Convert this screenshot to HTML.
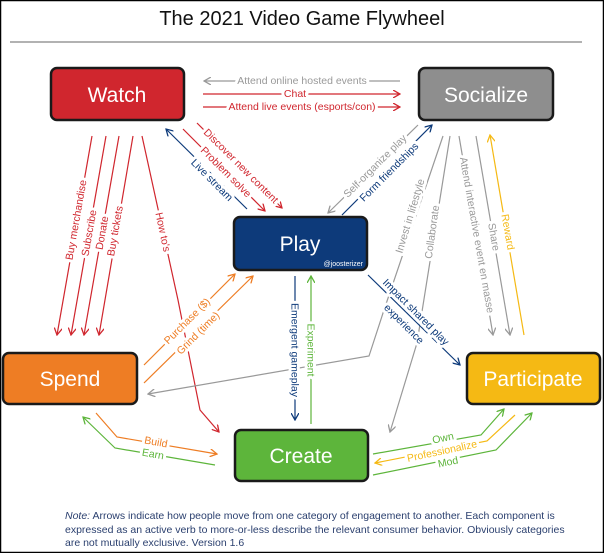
<!DOCTYPE html>
<html><head><meta charset="utf-8"><style>
html,body{margin:0;padding:0;background:#fff}
svg{display:block}
text{font-family:"Liberation Sans",sans-serif}
.l{font-size:10.5px;paint-order:stroke;stroke:#fff;stroke-width:6px;stroke-linejoin:round}
.b{font-size:21px;fill:#fff;text-anchor:middle}
</style></head><body>
<svg width="604" height="553" viewBox="0 0 604 553" xmlns="http://www.w3.org/2000/svg">
<defs>
<marker id="mr" markerWidth="8" markerHeight="8" refX="7" refY="4" orient="auto" markerUnits="userSpaceOnUse"><path d="M0,0 L7,4 L0,8" fill="none" stroke="#d0262e" stroke-width="1.3"/></marker>
<marker id="mg" markerWidth="8" markerHeight="8" refX="7" refY="4" orient="auto" markerUnits="userSpaceOnUse"><path d="M0,0 L7,4 L0,8" fill="none" stroke="#999" stroke-width="1.3"/></marker>
<marker id="mb" markerWidth="8" markerHeight="8" refX="7" refY="4" orient="auto" markerUnits="userSpaceOnUse"><path d="M0,0 L7,4 L0,8" fill="none" stroke="#0d3a7a" stroke-width="1.3"/></marker>
<marker id="mo" markerWidth="8" markerHeight="8" refX="7" refY="4" orient="auto" markerUnits="userSpaceOnUse"><path d="M0,0 L7,4 L0,8" fill="none" stroke="#ee7d24" stroke-width="1.3"/></marker>
<marker id="my" markerWidth="8" markerHeight="8" refX="7" refY="4" orient="auto" markerUnits="userSpaceOnUse"><path d="M0,0 L7,4 L0,8" fill="none" stroke="#f5b914" stroke-width="1.3"/></marker>
<marker id="mn" markerWidth="8" markerHeight="8" refX="7" refY="4" orient="auto" markerUnits="userSpaceOnUse"><path d="M0,0 L7,4 L0,8" fill="none" stroke="#5db53b" stroke-width="1.3"/></marker>
</defs>
<rect x="0.5" y="0.5" width="603" height="552" fill="#fff" stroke="#000" stroke-width="1.5"/>
<text x="302" y="25" font-size="20" text-anchor="middle" fill="#111">The 2021 Video Game Flywheel</text>
<line x1="10" y1="42" x2="582" y2="42" stroke="#999" stroke-width="1.5"/>

<g fill="none" stroke-width="1.2">
<line x1="400" y1="81" x2="204" y2="81" stroke="#999" marker-end="url(#mg)"/>
<line x1="203" y1="94" x2="400" y2="94" stroke="#d0262e" marker-end="url(#mr)"/>
<line x1="203" y1="107" x2="400" y2="107" stroke="#d0262e" marker-end="url(#mr)"/>
<line x1="92" y1="136" x2="57" y2="335" stroke="#d0262e" marker-end="url(#mr)"/>
<line x1="106" y1="136" x2="71" y2="335" stroke="#d0262e" marker-end="url(#mr)"/>
<line x1="119" y1="136" x2="84" y2="335" stroke="#d0262e" marker-end="url(#mr)"/>
<line x1="133" y1="136" x2="99" y2="335" stroke="#d0262e" marker-end="url(#mr)"/>
<polyline points="142,136 178,300 200,410 219,432" stroke="#d0262e" marker-end="url(#mr)"/>
<line x1="197" y1="123" x2="282" y2="208" stroke="#d0262e" marker-end="url(#mr)"/>
<line x1="183" y1="129" x2="265" y2="211" stroke="#d0262e" marker-end="url(#mr)"/>
<line x1="247" y1="209" x2="166" y2="129" stroke="#0d3a7a" marker-end="url(#mb)"/>
<line x1="144" y1="365" x2="235" y2="274" stroke="#ee7d24" marker-end="url(#mo)"/>
<line x1="144" y1="383" x2="253" y2="276" stroke="#ee7d24" marker-end="url(#mo)"/>
<line x1="418" y1="125" x2="328" y2="213" stroke="#999" marker-end="url(#mg)"/>
<line x1="342" y1="215" x2="432" y2="125" stroke="#0d3a7a" marker-end="url(#mb)"/>
<line x1="459" y1="136" x2="493" y2="335" stroke="#999" marker-end="url(#mg)"/>
<line x1="476" y1="136" x2="510" y2="335" stroke="#999" marker-end="url(#mg)"/>
<line x1="524" y1="335" x2="490" y2="135" stroke="#f5b914" marker-end="url(#my)"/>
<polyline points="443,136 384,310 369,356 148,394" stroke="#999" marker-end="url(#mg)"/>
<polyline points="450,136 417,343 390,432" stroke="#999" marker-end="url(#mg)"/>
<line x1="368" y1="275" x2="460" y2="365" stroke="#0d3a7a" marker-end="url(#mb)"/>
<line x1="295" y1="276" x2="295" y2="420" stroke="#0d3a7a" marker-end="url(#mb)"/>
<line x1="311" y1="424" x2="311" y2="276" stroke="#5db53b" marker-end="url(#mn)"/>
<polyline points="96,413 117,437 217,454" stroke="#ee7d24" marker-end="url(#mo)"/>
<polyline points="215,465 115,448 83,417" stroke="#5db53b" marker-end="url(#mn)"/>
<polyline points="373,454 481,435 504,409" stroke="#5db53b" marker-end="url(#mn)"/>
<polyline points="515,415 487,441 375,463" stroke="#f5b914" marker-end="url(#my)"/>
<polyline points="373,475 496,450 532,413" stroke="#5db53b" marker-end="url(#mn)"/>
</g>

<g class="l">
<text x="302" y="84" text-anchor="middle" fill="#999">Attend online hosted events</text>
<text x="295" y="97" text-anchor="middle" fill="#d0262e">Chat</text>
<text x="302" y="110" text-anchor="middle" fill="#d0262e">Attend live events (esports/con)</text>
<text transform="translate(76,220) rotate(-80)" text-anchor="middle" dy="3.5" fill="#d0262e">Buy merchandise</text>
<text transform="translate(89,233) rotate(-80)" text-anchor="middle" dy="3.5" fill="#d0262e">Subscribe</text>
<text transform="translate(102,233) rotate(-80)" text-anchor="middle" dy="3.5" fill="#d0262e">Donate</text>
<text transform="translate(115,231) rotate(-80)" text-anchor="middle" dy="3.5" fill="#d0262e">Buy tickets</text>
<text transform="translate(163,232) rotate(78)" text-anchor="middle" dy="3.5" fill="#d0262e">How to's</text>
<text transform="translate(241,166) rotate(45)" text-anchor="middle" dy="3.5" fill="#d0262e">Discover new content</text>
<text transform="translate(226,172) rotate(45)" text-anchor="middle" dy="3.5" fill="#d0262e">Problem solve</text>
<text transform="translate(212,180) rotate(45)" text-anchor="middle" dy="3.5" fill="#0d3a7a">Live stream</text>
<text transform="translate(187,321) rotate(-45)" text-anchor="middle" dy="3.5" fill="#ee7d24">Purchase ($)</text>
<text transform="translate(198,333) rotate(-45)" text-anchor="middle" dy="3.5" fill="#ee7d24">Grind (time)</text>
<text transform="translate(375,166) rotate(-45)" text-anchor="middle" dy="3.5" fill="#999">Self-organize play</text>
<text transform="translate(389,172) rotate(-45)" text-anchor="middle" dy="3.5" fill="#0d3a7a">Form friendships</text>
<text transform="translate(410,216) rotate(-73)" text-anchor="middle" dy="3.5" fill="#999">Invest in lifestyle</text>
<text transform="translate(432,232) rotate(-82)" text-anchor="middle" dy="3.5" fill="#999">Collaborate</text>
<text transform="translate(477,235) rotate(80)" text-anchor="middle" dy="3.5" fill="#999">Attend interactive event en masse</text>
<text transform="translate(494,237) rotate(80)" text-anchor="middle" dy="3.5" fill="#999">Share</text>
<text transform="translate(508,232) rotate(80)" text-anchor="middle" dy="3.5" fill="#f5b914">Reward</text>
<text transform="translate(416,312) rotate(45)" text-anchor="middle" dy="3.5" fill="#0d3a7a">Impact shared play</text>
<text transform="translate(404,324) rotate(45)" text-anchor="middle" dy="3.5" fill="#0d3a7a">experience</text>
<text transform="translate(295,350) rotate(90)" text-anchor="middle" dy="3.5" fill="#0d3a7a">Emergent gameplay</text>
<text transform="translate(311,350) rotate(90)" text-anchor="middle" dy="3.5" fill="#5db53b">Experiment</text>
<text transform="translate(156,442) rotate(10)" text-anchor="middle" dy="3.5" fill="#ee7d24">Build</text>
<text transform="translate(153,454) rotate(10)" text-anchor="middle" dy="3.5" fill="#5db53b">Earn</text>
<text transform="translate(443,438) rotate(-12)" text-anchor="middle" dy="3.5" fill="#5db53b">Own</text>
<text transform="translate(442,451) rotate(-12)" text-anchor="middle" dy="3.5" fill="#f5b914">Professionalize</text>
<text transform="translate(448,462) rotate(-12)" text-anchor="middle" dy="3.5" fill="#5db53b">Mod</text>
</g>

<g stroke="#1a1a1a" stroke-width="2.5">
<rect x="51" y="68" width="133" height="52" rx="6" fill="#d0262e"/>
<rect x="419" y="68" width="134" height="52" rx="6" fill="#8e8e8e"/>
<rect x="234" y="217" width="133" height="53" rx="6" fill="#0d3a7a"/>
<rect x="3" y="353" width="134" height="51" rx="6" fill="#ee7d24"/>
<rect x="467" y="353" width="133" height="51" rx="6" fill="#f5b914"/>
<rect x="235" y="430" width="133" height="51" rx="6" fill="#5db53b"/>
</g>
<text class="b" x="117" y="102">Watch</text>
<text class="b" x="486" y="102">Socialize</text>
<text class="b" x="300" y="251">Play</text>
<text x="363" y="266" font-size="7" fill="#fff" text-anchor="end">@joosterizer</text>
<text class="b" x="70" y="386">Spend</text>
<text class="b" x="533" y="386">Participate</text>
<text class="b" x="301" y="463">Create</text>

<g font-size="10.5" fill="#2a3f6e">
<text x="65" y="519"><tspan font-style="italic">Note:</tspan> Arrows indicate how people move from one category of engagement to another. Each component is</text>
<text x="65" y="533">expressed as an active verb to more-or-less describe the relevant consumer behavior. Obviously categories</text>
<text x="65" y="546">are not mutually exclusive. Version 1.6</text>
</g>
</svg>
</body></html>
